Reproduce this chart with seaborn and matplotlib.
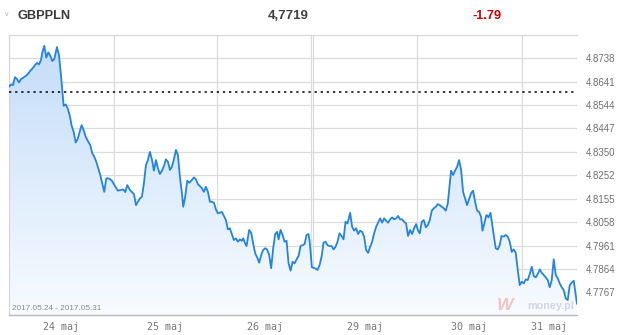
import numpy as np
import pandas as pd
import matplotlib
matplotlib.use("Agg")
import matplotlib.pyplot as plt
import seaborn as sns
from matplotlib.colors import LinearSegmentedColormap

# ---------------- data ----------------
symbol = "GBPPLN"
last_value = "4,7719"
change_pct = "-1.79"
period_label = "2017.05.24 - 2017.05.31"
prev_close = 4.8597

day_labels = ["24 maj", "25 maj", "26 maj", "29 maj", "30 maj", "31 maj"]
day_bounds = [0.0, 24.1, 47.8, 69.9, 93.8, 117.9, 130.64]   # trading-hour boundaries
weekend_extra = 69.55

ytick_values = [4.7767, 4.7864, 4.7961, 4.8058, 4.8155, 4.8252,
                4.8350, 4.8447, 4.8544, 4.8641, 4.8738]
ytick_labels = ["4.7767", "4.7864", "4.7961", "4.8058", "4.8155", "4.8252",
                "4.8350", "4.8447", "4.8544", "4.8641", "4.8738"]

hours = [0.0, 0.46, 0.92, 1.38, 1.84, 2.30, 2.76, 3.45, 4.14, 4.83,
         5.29, 5.98, 6.44, 6.90, 7.36, 7.66, 8.11, 8.57, 9.03, 9.49,
         9.95, 10.41, 11.03, 11.49, 11.95, 12.25, 12.57, 13.03, 13.49, 13.95,
         14.41, 14.87, 15.33, 15.79, 16.25, 16.71, 17.17, 17.63, 18.23, 18.69,
         19.15, 19.61, 20.07, 20.53, 20.99, 21.45, 21.91, 22.37,
         22.99, 23.68, 24.37, 25.06, 25.75, 26.28, 26.74, 27.20, 27.82, 28.28,
         28.74, 29.20, 29.66, 30.11, 30.57, 31.03, 31.49, 31.95, 32.41, 32.87,
         33.33, 33.79, 34.25, 34.71, 35.17, 35.63, 36.09, 36.55, 37.01, 37.47,
         37.93, 38.39, 38.85, 39.31, 39.77, 40.07, 40.53, 40.99, 41.45, 42.07,
         42.53, 42.99, 43.45, 43.91, 44.37, 44.83, 45.29, 45.75, 46.21,
         46.67, 47.13, 47.59, 48.05, 48.51, 48.97, 49.43, 49.89, 50.34, 50.80,
         51.26, 51.72, 52.18, 52.64, 53.10, 53.56, 53.86, 54.32, 54.64, 55.24,
         55.70, 56.16, 56.62, 57.08, 57.54, 58.00, 58.46, 58.92, 59.38, 59.84,
         60.30, 60.76, 61.22, 61.68, 62.00, 62.46, 62.92, 63.38, 63.84, 64.30,
         64.76, 65.22, 65.68, 66.14, 66.60, 67.06, 67.52, 67.98, 68.44, 68.90,
         69.20, 69.66,
         70.34, 70.97, 71.43, 71.89, 72.34, 72.80, 73.26, 73.72, 74.18, 74.64,
         75.10, 75.56, 76.02, 76.48, 76.94, 77.40, 77.86, 78.46, 78.92, 79.38,
         79.84, 80.30, 80.76, 81.22, 81.68, 82.14, 82.60, 83.06, 83.52, 83.98,
         84.44, 84.90, 85.36, 85.82, 86.28, 86.74, 87.20, 87.66, 88.11, 88.57,
         89.03, 89.49, 89.95, 90.41, 90.87, 91.33, 91.79, 92.25, 92.71, 93.17,
         93.63, 94.09, 94.48,
         94.94, 95.40, 95.86, 96.32, 96.78, 97.24, 97.70, 98.16, 98.62, 99.08,
         99.54, 100.00, 100.46, 100.92, 101.38, 101.68, 102.14, 102.60, 103.06, 103.52,
         103.98, 104.44, 104.90, 105.36, 105.82, 106.28, 106.74, 107.20, 107.66, 108.11,
         108.57, 108.90, 109.36, 109.82, 110.28, 110.74, 111.20, 111.66, 111.95, 112.41,
         112.87, 113.26, 113.79, 114.25, 114.71, 115.17, 115.63, 116.09, 116.55, 117.01,
         117.47, 117.93, 118.39, 118.85, 119.31, 119.77, 120.23, 120.69, 121.15, 121.61,
         122.07, 122.53, 122.99, 123.45, 123.91, 124.37, 124.83, 125.29, 125.75, 126.21,
         126.67, 127.13, 127.59, 128.05, 128.51, 128.97, 129.43, 129.89, 130.34, 130.64]

rates = [4.8620, 4.8630, 4.8627, 4.8660, 4.8652, 4.8638, 4.8652, 4.8660, 4.8669, 4.8685,
         4.8694, 4.8710, 4.8719, 4.8713, 4.8731, 4.8763, 4.8790, 4.8741, 4.8763, 4.8749,
         4.8727, 4.8735, 4.8785, 4.8752, 4.8669, 4.8607, 4.8541, 4.8547, 4.8531, 4.8503,
         4.8458, 4.8433, 4.8389, 4.8403, 4.8433, 4.8461, 4.8440, 4.8413, 4.8392, 4.8378,
         4.8344, 4.8330, 4.8309, 4.8282, 4.8254, 4.8219, 4.8184, 4.8240,
         4.8240, 4.8230, 4.8208, 4.8189, 4.8192, 4.8194, 4.8183, 4.8212, 4.8192, 4.8183,
         4.8175, 4.8129, 4.8143, 4.8157, 4.8164, 4.8219, 4.8295, 4.8316, 4.8350, 4.8319,
         4.8272, 4.8316, 4.8282, 4.8258, 4.8272, 4.8291, 4.8319, 4.8309, 4.8275, 4.8288,
         4.8319, 4.8358, 4.8337, 4.8247, 4.8178, 4.8122, 4.8164, 4.8230, 4.8222, 4.8233,
         4.8244, 4.8236, 4.8216, 4.8208, 4.8199, 4.8184, 4.8205, 4.8184, 4.8143,
         4.8143, 4.8139, 4.8111, 4.8095, 4.8097, 4.8101, 4.8084, 4.8067, 4.8028, 4.8033,
         4.8009, 4.7984, 4.7991, 4.7977, 4.7987, 4.7981, 4.7991, 4.7970, 4.7959, 4.8026,
         4.8014, 4.7970, 4.7929, 4.7912, 4.7890, 4.7922, 4.7943, 4.7950, 4.7945, 4.7922,
         4.7867, 4.7950, 4.8009, 4.8018, 4.7987, 4.8026, 4.8005, 4.7977, 4.7981, 4.7887,
         4.7857, 4.7894, 4.7887, 4.7904, 4.7918, 4.7959, 4.7963, 4.7967, 4.8005, 4.8009,
         4.7970, 4.7871,
         4.7867, 4.7860, 4.7880, 4.7915, 4.7973, 4.7977, 4.7963, 4.7959, 4.7959, 4.7945,
         4.7956, 4.7977, 4.8012, 4.8001, 4.7987, 4.8060, 4.8053, 4.8097, 4.8039, 4.8023,
         4.8033, 4.8009, 4.8023, 4.8018, 4.7998, 4.7943, 4.7931, 4.7956, 4.7977, 4.8012,
         4.8039, 4.8056, 4.8074, 4.8056, 4.8074, 4.8064, 4.8056, 4.8070, 4.8078, 4.8070,
         4.8074, 4.8084, 4.8070, 4.8070, 4.8060, 4.8053, 4.8001, 4.8026, 4.8009, 4.8033,
         4.8050, 4.8023, 4.8012,
         4.8060, 4.8067, 4.8037, 4.8046, 4.8067, 4.8106, 4.8116, 4.8122, 4.8133, 4.8129,
         4.8122, 4.8116, 4.8106, 4.8136, 4.8219, 4.8272, 4.8254, 4.8272, 4.8288, 4.8316,
         4.8275, 4.8184, 4.8157, 4.8129, 4.8153, 4.8178, 4.8189, 4.8143, 4.8106, 4.8101,
         4.8081, 4.8023, 4.8056, 4.8088, 4.8078, 4.8097, 4.8039, 4.7984, 4.7950, 4.7945,
         4.7963, 4.8001, 4.7998, 4.8005, 4.7998, 4.7977, 4.7935, 4.7945, 4.7931, 4.7860,
         4.7797, 4.7811, 4.7804, 4.7821, 4.7818, 4.7843, 4.7873, 4.7835, 4.7829, 4.7843,
         4.7862, 4.7848, 4.7839, 4.7829, 4.7818, 4.7788, 4.7818, 4.7904, 4.7839, 4.7825,
         4.7804, 4.7788, 4.7776, 4.7742, 4.7735, 4.7797, 4.7807, 4.7815, 4.7756, 4.7719]

n = min(len(hours), len(rates))
df = pd.DataFrame({"hour": hours[:n], "rate": rates[:n]})

# ---------------- figure ----------------
W, H = 621, 335
sns.set_theme(style="white")
plt.rcParams["font.family"] = ["Liberation Sans", "DejaVu Sans"]
fig = plt.figure(figsize=(W / 100, H / 100), dpi=100)
fig.patch.set_facecolor("white")

L, R, T, B = 9, 577, 35, 315
ax = fig.add_axes([L / W, 1 - B / H, (R - L) / W, (B - T) / H])
ymin, ymax = 4.7673, 4.8835
xmax = day_bounds[-1]
ax.set_xlim(0, xmax)
ax.set_ylim(ymin, ymax)
ax.set_facecolor("white")

grid_c = "#dcdcdc"
for v in ytick_values:
    ax.axhline(v, color=grid_c, lw=0.9, zorder=1)
for b in day_bounds[1:-1]:
    ax.axvline(b, color=grid_c, lw=0.9, zorder=1)
ax.axvline(weekend_extra, color=grid_c, lw=0.9, zorder=1)

# gradient area fill
poly = ax.fill_between(df["hour"], df["rate"], ymin, color="none", lw=0, zorder=2)
cmap = LinearSegmentedColormap.from_list("g", ["#f8fbff", "#c4ddf9"])
grad = np.linspace(0, 1, 256).reshape(-1, 1)
im = ax.imshow(grad, extent=[0, xmax, ymin, 4.8800], origin="lower", aspect="auto",
               cmap=cmap, zorder=2)
im.set_clip_path(poly.get_paths()[0], transform=ax.transData)

sns.lineplot(data=df, x="hour", y="rate", ax=ax, color="#2384e0", lw=1.3,
             zorder=4, legend=False)
ax.axhline(prev_close, color="black", lw=1.1, ls=(0, (1.5, 2.5)), zorder=5)

ax.set_xlabel("")
ax.set_ylabel("")
ax.set_xticks([])
ax.yaxis.tick_right()
ax.set_yticks(ytick_values)
ax.set_yticklabels(ytick_labels)
ax.tick_params(axis="y", length=0, pad=6, labelsize=7, labelcolor="#707070")
for lab in ax.get_yticklabels():
    lab.set_fontfamily(["Liberation Sans", "DejaVu Sans"])

for s in ["top", "left"]:
    ax.spines[s].set_color("#d8d8d8")
    ax.spines[s].set_linewidth(0.9)
ax.spines["right"].set_visible(False)
ax.spines["bottom"].set_color("#b8b8b8")
ax.spines["bottom"].set_linewidth(1.0)

# day labels below axis
for i, lab in enumerate(day_labels):
    c = (day_bounds[i] + day_bounds[i + 1]) / 2
    ax.text(c, -12 / 280, lab, transform=ax.get_xaxis_transform(), ha="center",
            va="center", fontsize=7.2, color="#777777", family=["DejaVu Sans Mono"])

# period label inside plot
ax.text(0.6, ymin + 0.0028, period_label, ha="left", va="center", fontsize=5.9,
        color="#8a8a8a", zorder=6)

# watermark
fig.text(497 / W, 1 - 306 / H, "W", fontsize=12.5, fontweight="bold", style="italic",
         color="#f4c2c2", ha="left", va="center", zorder=7)
fig.text(527 / W, 1 - 306 / H, "money.pl", fontsize=7.8, fontweight="bold",
         color="#d3d5e5", ha="left", va="center", zorder=7)

# header
fig.text(7 / W, 1 - 15 / H, "v", fontsize=5, color="#b0b0b0", ha="center", va="center")
fig.text(18 / W, 1 - 16 / H, symbol, fontsize=9.2, fontweight="bold", color="#3a3a3a",
         ha="left", va="center")
fig.text(288 / W, 1 - 16 / H, last_value, fontsize=9.5, fontweight="bold", color="#404040",
         ha="center", va="center")
fig.text(487 / W, 1 - 16 / H, change_pct, fontsize=9.2, fontweight="bold", color="#cc0000",
         ha="center", va="center")

fig.savefig("out.png", dpi=100, facecolor="white")
